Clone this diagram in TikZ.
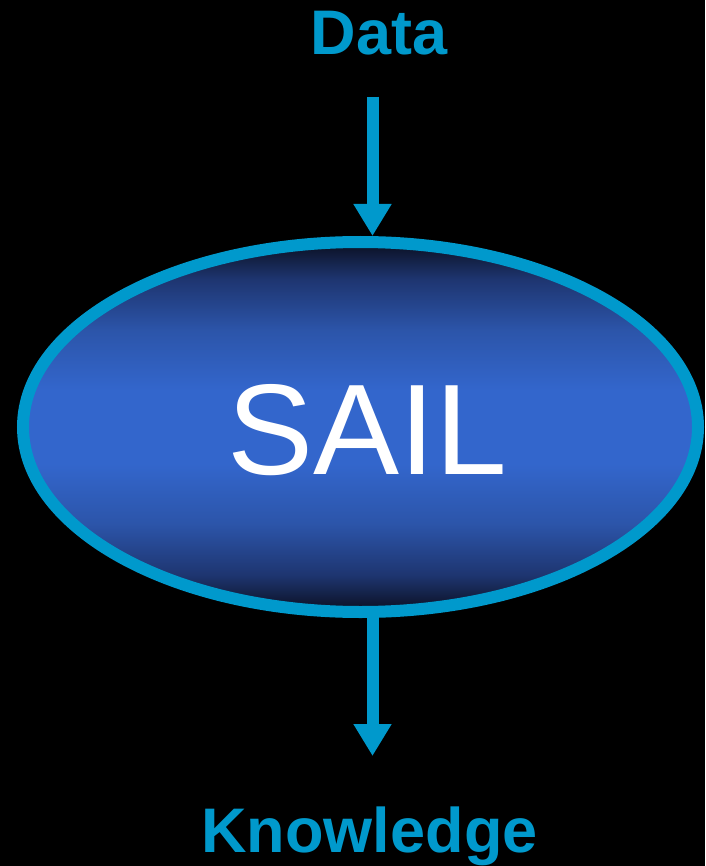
\documentclass[tikz,border=0pt]{standalone}
\usepackage{fontspec}
\setmainfont{Liberation Sans}
\usetikzlibrary{shapes.geometric,arrows.meta}
\definecolor{lineblue}{HTML}{0099CC}
\definecolor{fillmid}{HTML}{3366CC}
\definecolor{filldark}{HTML}{0A0F20}
\definecolor{fillmd}{HTML}{1E3570}
\definecolor{fillml}{HTML}{2C55AA}
\pgfdeclareverticalshading{sailshade}{100bp}{color(0bp)=(filldark); color(25bp)=(filldark); color(30bp)=(fillmd); color(37bp)=(fillml); color(45bp)=(fillmid); color(55bp)=(fillmid); color(63bp)=(fillml); color(70bp)=(fillmd); color(75bp)=(filldark); color(100bp)=(filldark)}
\tikzset{
  sailellipse/.style={ellipse, draw=lineblue, line width=12pt, shading=sailshade, minimum width=675pt, minimum height=370pt, inner sep=0pt},
  flowarrow/.style={draw=lineblue, line width=12pt, -{Triangle[width=36pt,length=32pt]}},
  bluelabel/.style={text=lineblue, font=\bfseries\fontsize{63}{63}\selectfont, anchor=base, inner sep=0pt},
  whitelabel/.style={text=white, font=\fontsize{129}{129}\selectfont, anchor=base, inner sep=0pt}
}
\begin{document}
\begin{tikzpicture}[x=1pt,y=1pt]
\fill[black] (0,0) rectangle (705,-866);
\useasboundingbox (0,0) rectangle (705,-866);
\node[sailellipse] (sail) at (360.5,-427) {};
\node[whitelabel] (sailtext) at (367,-474) {SAIL};
\node[bluelabel] (data) at (379,-54.3) {Data};
\node[bluelabel] (knowledge) at (369.5,-852.3) {Knowledge};
\coordinate (dstart) at (372.5,-96.7);
\coordinate (dend) at (372.5,-236);
\coordinate (kstart) at (372.5,-612);
\coordinate (kend) at (372.5,-756);
\draw[flowarrow] (dstart) -- (dend);
\draw[flowarrow] (kstart) -- (kend);
\end{tikzpicture}
\end{document}
